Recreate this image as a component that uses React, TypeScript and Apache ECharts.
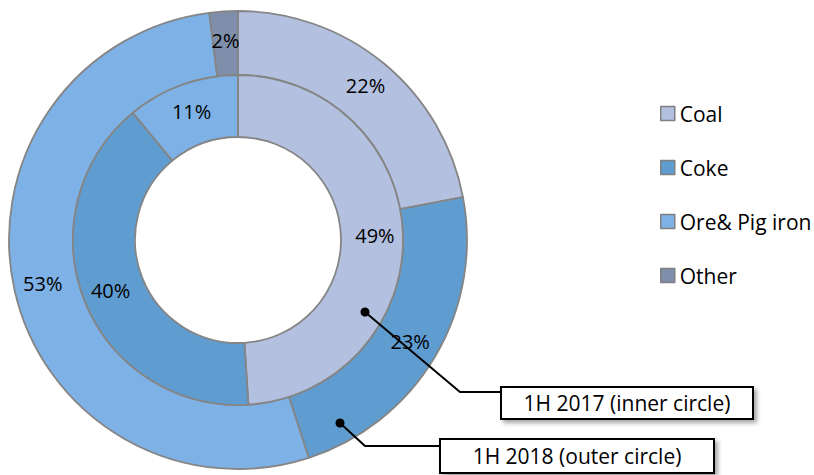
import React, { useEffect, useRef } from "react";
import * as echarts from "echarts";

// Share of import volume by cargo group, first half of each year (%)
const categories = ["Coal", "Coke", "Ore& Pig iron", "Other"];
const share2018 = [22, 23, 53, 2]; // outer ring
const share2017 = [49, 40, 11, 0]; // inner ring
const colors = ["#B3C0E0", "#5F9CD0", "#7EB1E5", "#7E8EAB"];

const FONT = "'Open Sans', sans-serif";

function ringData(values: number[]) {
  return categories
    .map((name, i) => ({ name, value: values[i], itemStyle: { color: colors[i] } }))
    .filter((d) => d.value > 0);
}

function ringSeries(name: string, values: number[], radius: [number, number]) {
  return {
    name,
    type: "pie" as const,
    center: [238, 240],
    radius,
    startAngle: 90,
    clockwise: true,
    avoidLabelOverlap: false,
    silent: true,
    label: {
      show: true,
      position: "inside" as const,
      formatter: "{c}%",
      color: "#000",
      fontFamily: FONT,
      fontSize: 20,
    },
    labelLine: { show: false },
    itemStyle: { borderColor: "#858585", borderWidth: 1.8 },
    data: ringData(values),
  };
}

function callout(
  dot: [number, number],
  bend: [number, number],
  box: { x: number; y: number; w: number; h: number },
  text: string
) {
  return [
    {
      type: "polyline",
      shape: { points: [dot, bend, [box.x, bend[1]]] },
      style: { stroke: "#000", lineWidth: 2, fill: "none" },
      z: 10,
    },
    {
      type: "circle",
      shape: { cx: dot[0], cy: dot[1], r: 4.5 },
      style: { fill: "#000" },
      z: 11,
    },
    {
      type: "rect",
      shape: { x: box.x, y: box.y, width: box.w, height: box.h },
      style: {
        fill: "#fff",
        stroke: "#000",
        lineWidth: 2,
        shadowBlur: 4,
        shadowOffsetX: 3,
        shadowOffsetY: 3,
        shadowColor: "rgba(0,0,0,0.35)",
      },
      z: 12,
    },
    {
      type: "text",
      x: box.x + box.w / 2,
      y: box.y + box.h / 2,
      style: {
        text,
        fill: "#000",
        font: `21px ${FONT}`,
        align: "center",
        verticalAlign: "middle",
      },
      z: 13,
    },
  ];
}

export default function App() {
  const ref = useRef<HTMLDivElement>(null);

  useEffect(() => {
    document.body.style.margin = "0";
    if (!ref.current) return;
    const chart = echarts.init(ref.current, null, { renderer: "svg" });
    chart.setOption({
      animation: false,
      backgroundColor: "#fff",
      legend: {
        orient: "vertical",
        left: 655,
        top: 98,
        icon: "rect",
        itemWidth: 14,
        itemHeight: 14,
        itemGap: 33,
        selectedMode: false,
        data: categories,
        itemStyle: { borderColor: "#808080", borderWidth: 1.5 },
        textStyle: { fontFamily: FONT, fontSize: 21, color: "#000", lineHeight: 20 },
      },
      series: [
        ringSeries("1H 2018", share2018, [165, 229]),
        ringSeries("1H 2017", share2017, [103, 165]),
      ],
      graphic: [
        ...callout([365, 312], [460, 392], { x: 501, y: 387, w: 252, h: 32 }, "1H 2017 (inner circle)"),
        ...callout([340, 423], [365, 446], { x: 440, y: 439, w: 274, h: 34 }, "1H 2018 (outer circle)"),
      ],
    });
    return () => chart.dispose();
  }, []);

  return <div ref={ref} style={{ width: 814, height: 475 }} />;
}
